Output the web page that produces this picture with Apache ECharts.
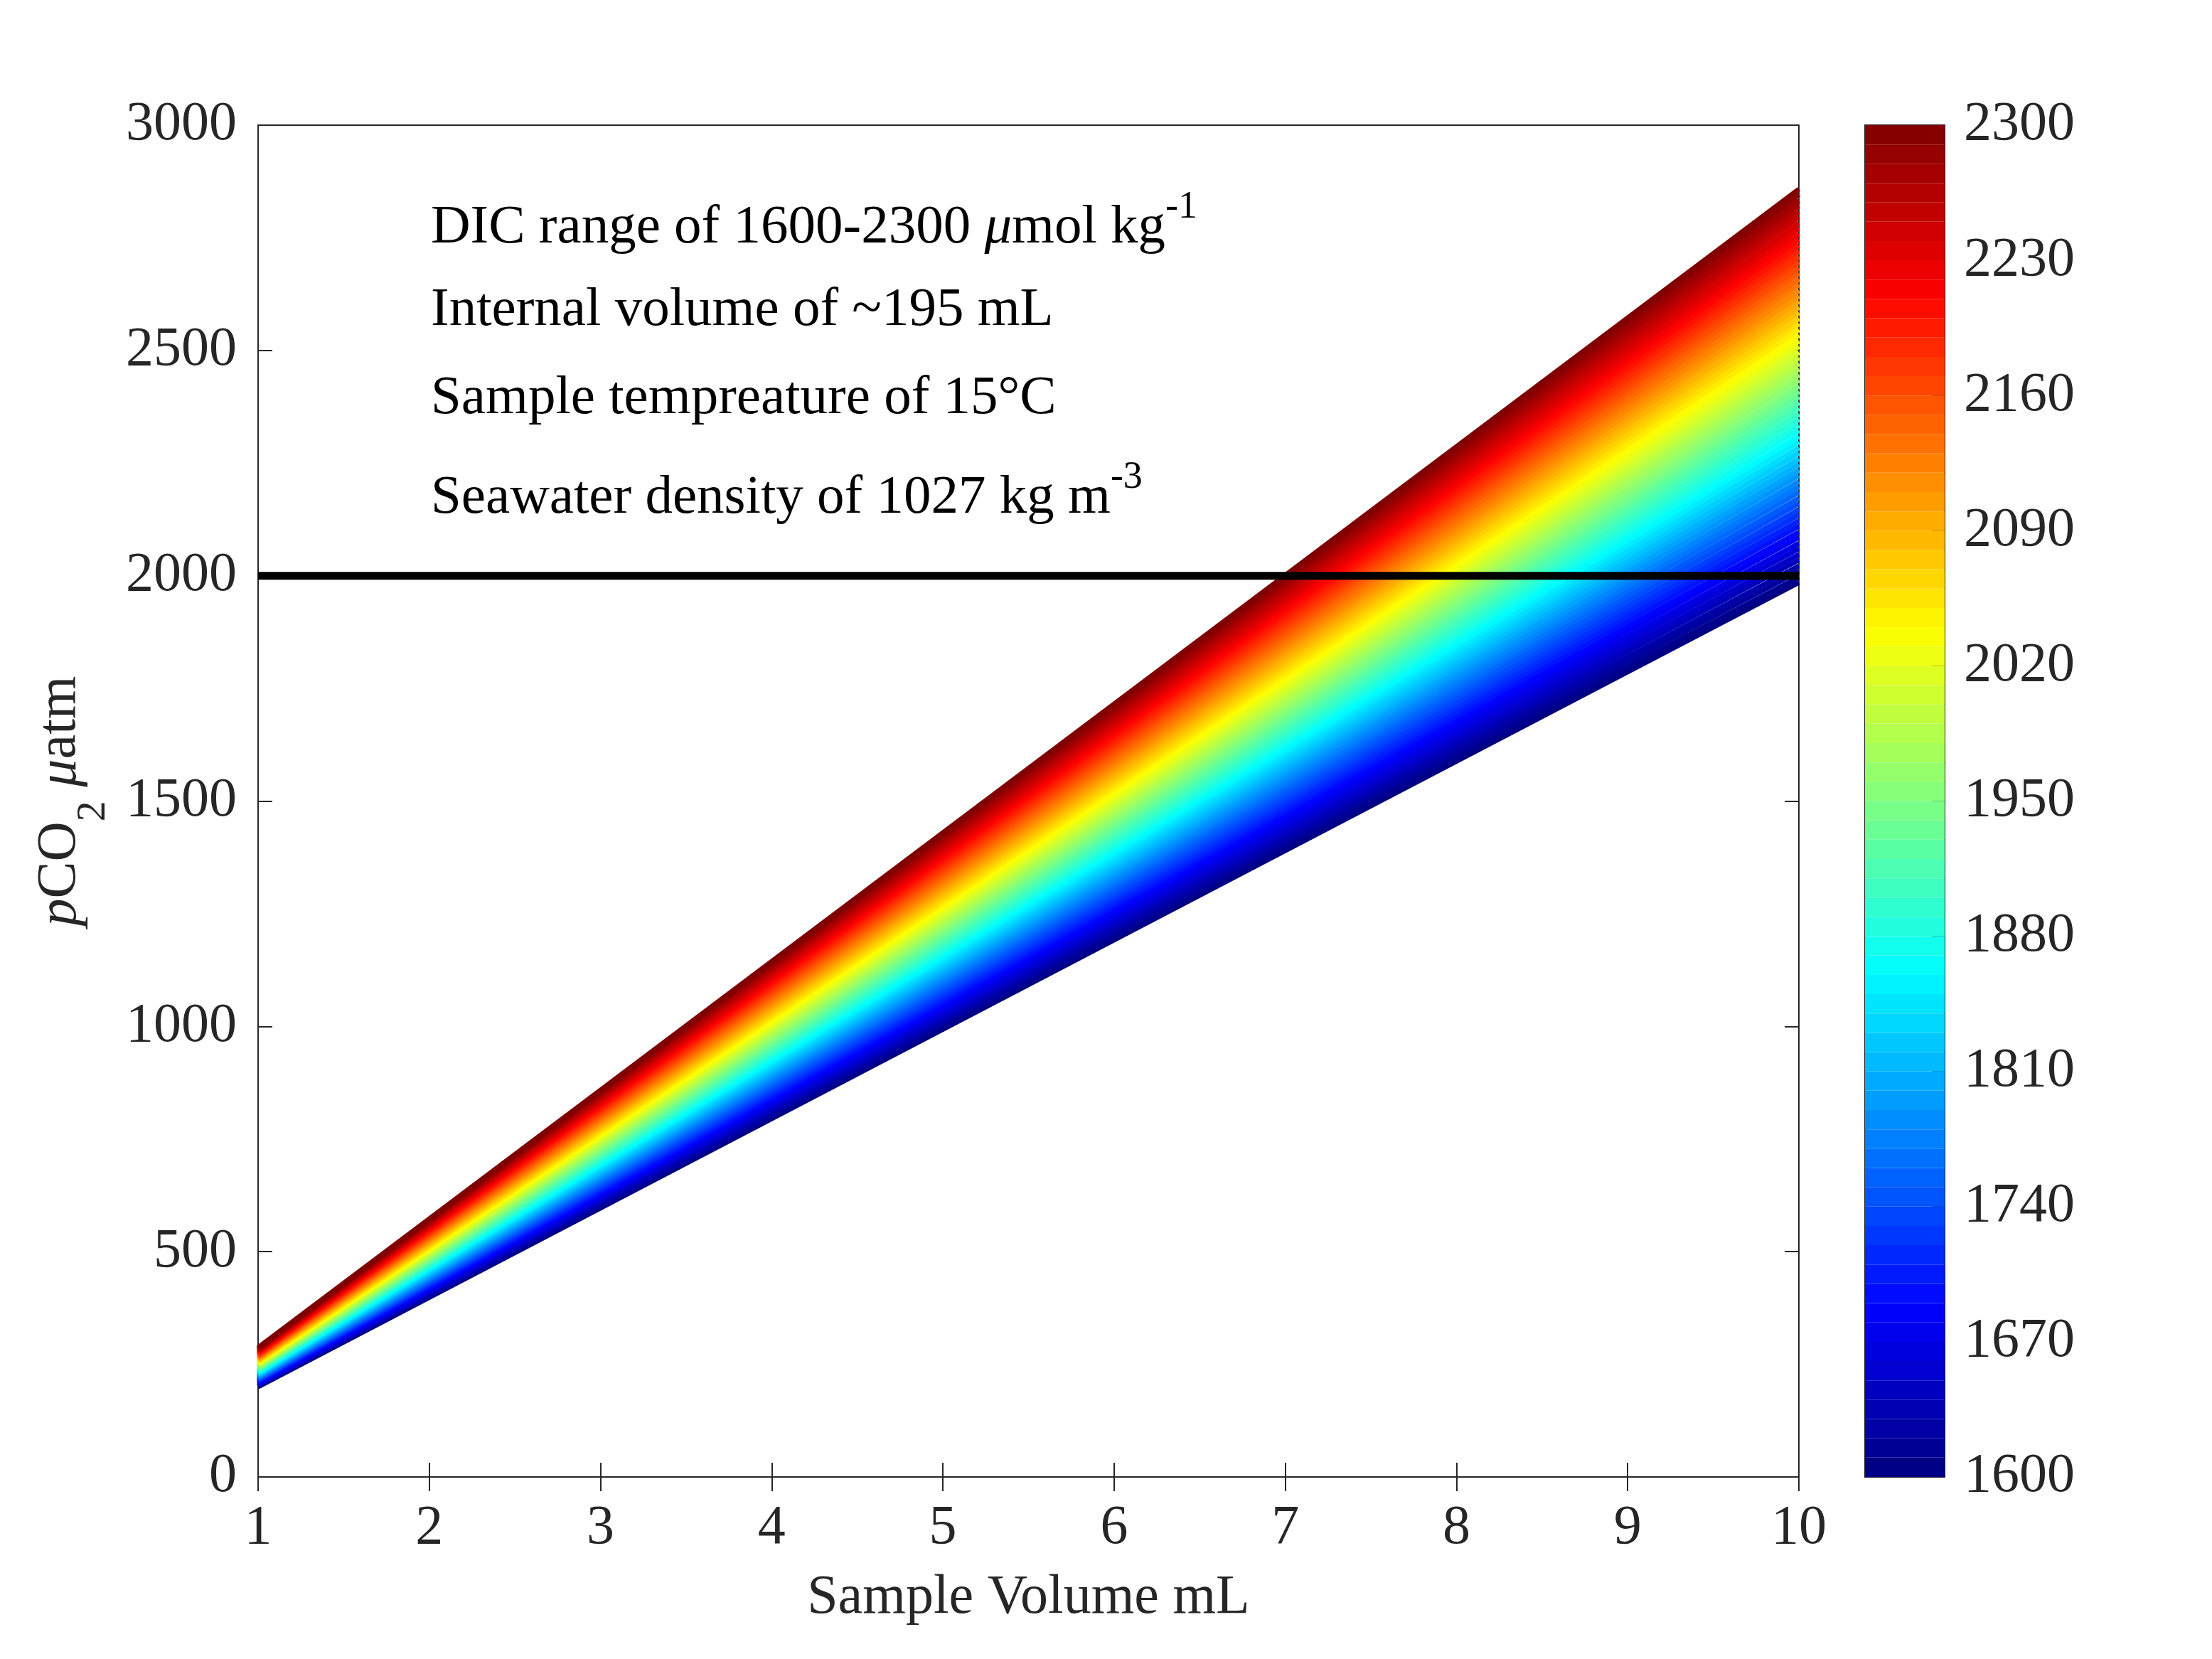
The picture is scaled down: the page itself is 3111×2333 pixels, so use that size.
<!DOCTYPE html>
<html>
<head>
<meta charset="utf-8">
<script src="https://cdn.jsdelivr.net/npm/echarts@6/dist/echarts.min.js"></script>
<style>
html, body { margin: 0; padding: 0; background: #fff; }
#container { width: 3111px; height: 2333px; }
</style>
</head>
<body>
<div id="container"></div>
<script>
// data
var volumes = [1, 10]; // sample volume, mL (each line is straight)
var dicLevels = [1600, 1610, 1620, 1630, 1640, 1650, 1660, 1670, 1680, 1690,
    1700, 1710, 1720, 1730, 1740, 1750, 1760, 1770, 1780, 1790,
    1800, 1810, 1820, 1830, 1840, 1850, 1860, 1870, 1880, 1890,
    1900, 1910, 1920, 1930, 1940, 1950, 1960, 1970, 1980, 1990,
    2000, 2010, 2020, 2030, 2040, 2050, 2060, 2070, 2080, 2090,
    2100, 2110, 2120, 2130, 2140, 2150, 2160, 2170, 2180, 2190,
    2200, 2210, 2220, 2230, 2240, 2250, 2260, 2270, 2280, 2290, 2300];
// pCO2 at 1 mL, one per DIC level
var pco2At1 = [200, 201, 202, 204, 205, 206, 207, 209, 210, 211,
    212, 214, 215, 216, 217, 219, 220, 221, 222, 224,
    225, 226, 227, 229, 230, 231, 232, 234, 235, 236,
    237, 239, 240, 241, 242, 244, 245, 246, 247, 249,
    250, 251, 252, 253, 255, 256, 257, 258, 260, 261,
    262, 263, 265, 266, 267, 268, 270, 271, 272, 273,
    275, 276, 277, 278, 280, 281, 282, 283, 285, 286, 287];
// pCO2 at 10 mL, one per DIC level
var pco2At10 = [1985, 1997, 2010, 2022, 2035, 2047, 2060, 2072, 2085, 2097,
    2110, 2122, 2135, 2147, 2160, 2172, 2185, 2197, 2209, 2222,
    2234, 2247, 2259, 2272, 2284, 2297, 2309, 2322, 2334, 2347,
    2359, 2372, 2384, 2397, 2409, 2421, 2434, 2446, 2459, 2471,
    2484, 2496, 2509, 2521, 2534, 2546, 2559, 2571, 2584, 2596,
    2609, 2621, 2633, 2646, 2658, 2671, 2683, 2696, 2708, 2721,
    2733, 2746, 2758, 2771, 2783, 2796, 2808, 2821, 2833, 2846, 2858];
var thresholdLine = [[1, 2000], [10, 2000]];
var cbTicks = [1600, 1670, 1740, 1810, 1880, 1950, 2020, 2090, 2160, 2230, 2300];
var xTicks = [1, 10, 1];      // min, max, step
var yTicks = [0, 3000, 500];

// style
var FONT = 'Liberation Serif';
var INK = '#262626';
var dom = document.getElementById('container');
var myChart = echarts.init(dom);

function clamp(v) { return Math.max(0, Math.min(1, v)); }
// matlab jet
function jet(t) {
    var r = clamp(1.5 - Math.abs(4 * t - 3));
    var g = clamp(1.5 - Math.abs(4 * t - 2));
    var b = clamp(1.5 - Math.abs(4 * t - 1));
    return 'rgb(' + Math.round(r * 255) + ',' + Math.round(g * 255) + ',' + Math.round(b * 255) + ')';
}
var dicMin = dicLevels[0], dicMax = dicLevels[dicLevels.length - 1];

var series = [];
dicLevels.forEach(function (dic, i) {
    series.push({
        name: 'DIC ' + dic,
        type: 'line',
        xAxisIndex: 0,
        yAxisIndex: 0,
        showSymbol: false,
        silent: true,
        clip: false,
        z: 2,
        lineStyle: { width: 7, color: jet((dic - dicMin) / (dicMax - dicMin)), cap: 'butt' },
        data: [[volumes[0], pco2At1[i]], [volumes[1], pco2At10[i]]]
    });
});
series.push({
    name: '2000',
    type: 'line',
    xAxisIndex: 0,
    yAxisIndex: 0,
    showSymbol: false,
    silent: true,
    z: 5,
    lineStyle: { width: 11, color: '#000' },
    data: thresholdLine
});

// colorbar bands
var bands = dicLevels.slice(0, dicLevels.length - 1);
series.push({
    name: 'colorbar',
    type: 'bar',
    xAxisIndex: 2,
    yAxisIndex: 2,
    silent: true,
    barWidth: '100%',
    data: bands.map(function (d) {
        return { value: 1, itemStyle: { color: jet((d + 5 - dicMin) / (dicMax - dicMin)) } };
    })
});

var tickLabel = { fontFamily: FONT, fontSize: 78, color: INK, formatter: function (v) { return String(v); } };
// superscript helpers: main text sits low in a taller line, superscript at the top
var supRich = {
    m: { fontFamily: FONT, fontSize: 77, lineHeight: 94, fill: '#000', verticalAlign: 'bottom' },
    i: { fontFamily: FONT, fontSize: 77, lineHeight: 94, fill: '#000', fontStyle: 'italic', verticalAlign: 'bottom' },
    s: { fontFamily: FONT, fontSize: 54, lineHeight: 54, fill: '#000', verticalAlign: 'top' }
};
var option = {
    backgroundColor: '#fff',
    animation: false,
    grid: [
        { left: 363, top: 176, width: 2167, height: 1901, outerBoundsMode: 'none', show: true, borderColor: INK, borderWidth: 2 },
        { left: 2623, top: 176, width: 112, height: 1901, outerBoundsMode: 'none', show: true, borderColor: INK, borderWidth: 2 }
    ],
    xAxis: [
        {
            type: 'value', gridIndex: 0, min: xTicks[0], max: xTicks[1], interval: xTicks[2],
            axisLine: { show: false },
            axisTick: { inside: true, length: 20, lineStyle: { color: INK, width: 2 } },
            axisLabel: Object.assign({ margin: 34 }, tickLabel),
            splitLine: { show: false },
            name: 'Sample Volume mL',
            nameLocation: 'middle',
            nameGap: 132,
            nameTextStyle: { fontFamily: FONT, fontSize: 78, color: INK }
        },
        {
            type: 'value', gridIndex: 0, position: 'top', min: xTicks[0], max: xTicks[1], interval: xTicks[2],
            axisLine: { show: false },
            axisTick: { inside: true, length: 20, lineStyle: { color: INK, width: 2 } },
            axisLabel: { show: false },
            splitLine: { show: false }
        },
        {
            type: 'value', gridIndex: 1, min: 0, max: 1, show: false
        }
    ],
    yAxis: [
        {
            type: 'value', gridIndex: 0, min: yTicks[0], max: yTicks[1], interval: yTicks[2],
            axisLine: { show: false },
            axisTick: { inside: true, length: 20, lineStyle: { color: INK, width: 2 } },
            axisLabel: Object.assign({ margin: 30 }, tickLabel),
            splitLine: { show: false },
            name: '{i|p}{m|CO}{s|2}{m| }{i|\u03bc}{m|atm}',
            nameLocation: 'middle',
            nameRotate: 90,
            nameGap: 202,
            nameTextStyle: {
                fontFamily: FONT, fontSize: 78, color: INK,
                rich: {
                    m: { fontFamily: FONT, fontSize: 78, lineHeight: 80, color: INK, verticalAlign: 'top' },
                    i: { fontFamily: FONT, fontSize: 78, lineHeight: 80, color: INK, fontStyle: 'italic', verticalAlign: 'top' },
                    s: { fontFamily: FONT, fontSize: 58, lineHeight: 115, color: INK, verticalAlign: 'bottom' }
                }
            }
        },
        {
            type: 'value', gridIndex: 0, position: 'right', min: yTicks[0], max: yTicks[1], interval: yTicks[2],
            axisLine: { show: false },
            axisTick: { inside: true, length: 20, lineStyle: { color: INK, width: 2 } },
            axisLabel: { show: false },
            splitLine: { show: false }
        },
        {
            type: 'category', gridIndex: 1, data: bands, show: false, boundaryGap: true
        },
        {
            type: 'value', gridIndex: 1, position: 'right', min: 0, max: cbTicks[cbTicks.length - 1] - cbTicks[0],
            interval: cbTicks[1] - cbTicks[0],
            axisLine: { show: false },
            axisTick: { inside: true, length: 18, lineStyle: { color: INK, width: 2 } },
            axisLabel: Object.assign({}, tickLabel, {
                margin: 27,
                formatter: function (v) { return String(cbTicks[0] + v); }
            }),
            splitLine: { show: false }
        }
    ],
    graphic: [
        {
            type: 'text', left: 606, top: 265, z: 10,
            style: { text: '{m|DIC range of 1600-2300 }{i|\u03bc}{m|mol kg}{s|-1}', rich: supRich }
        },
        {
            type: 'text', left: 606, top: 398, z: 10,
            style: { text: 'Internal volume of ~195 mL', fontFamily: FONT, fontSize: 77, lineHeight: 77, fill: '#000' }
        },
        {
            type: 'text', left: 606, top: 522, z: 10,
            style: { text: 'Sample tempreature of 15\u00b0C', fontFamily: FONT, fontSize: 77, lineHeight: 77, fill: '#000' }
        },
        {
            type: 'text', left: 606, top: 645, z: 10,
            style: { text: '{m|Seawater density of 1027 kg m}{s|-3}', rich: supRich }
        }
    ],
    series: series
};
myChart.setOption(option, true);
</script>
</body>
</html>
